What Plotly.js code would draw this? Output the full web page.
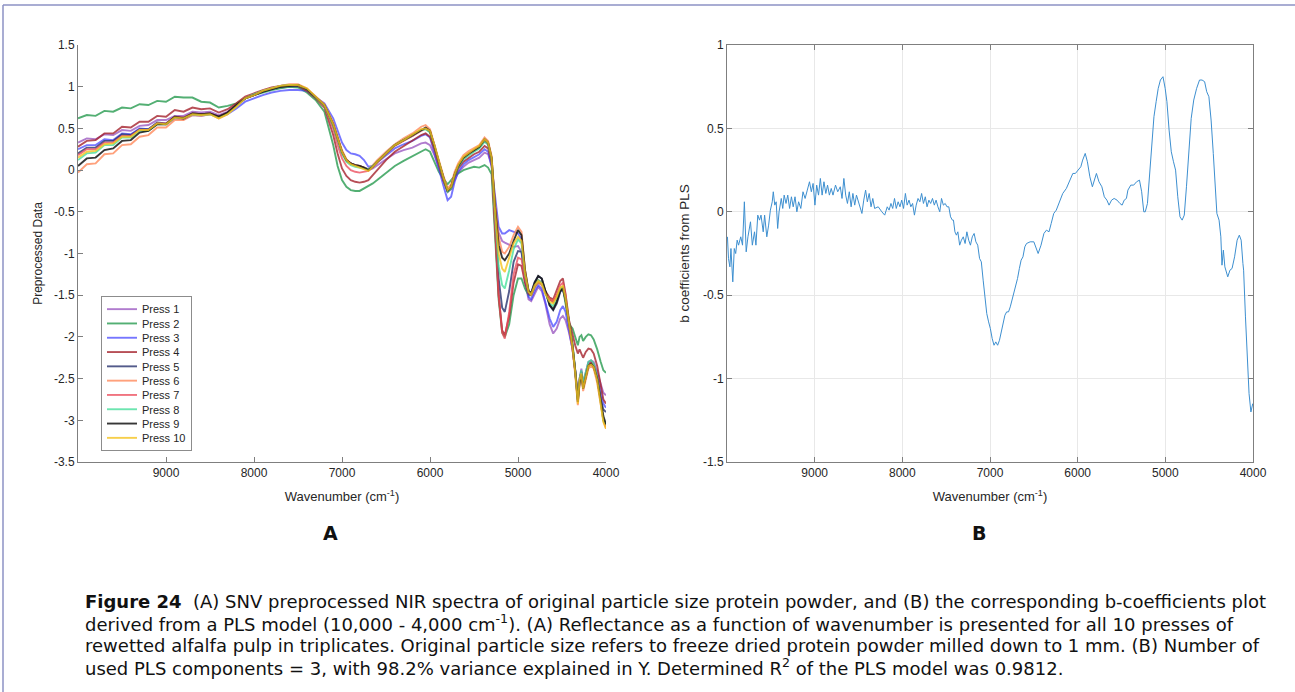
<!DOCTYPE html>
<html><head><meta charset="utf-8">
<script src="https://cdn.plot.ly/plotly-3.0.1.min.js"></script>
<style>html,body{margin:0;padding:0;background:#fff;}#chart{width:1295px;height:692px;}</style>
</head><body><div id="chart"></div>
<script>
// ---------- Panel A: SNV preprocessed spectra ----------
const wavenumber = [10000,9900,9800,9700,9600,9500,9400,9300,9200,9100,9000,8900,8800,8700,8600,8500,8400,8300,8200,8100,8000,
7900,7800,7700,7600,7500,7400,7300,7200,7100,7050,7000,6950,6900,6850,6800,6750,6700,6650,6600,6500,6400,6300,6200,6100,
6050,6000,5950,5900,5850,5800,5760,5720,5680,5620,5560,5500,5440,5380,5340,5300,5260,5220,5180,5150,
5100,5050,5000,4960,4920,4880,4850,4810,4770,4730,4690,4640,4600,4560,4520,4490,4460,4420,4380,4350,4320,4300,4280,4260,4230,4200,4170,4140,4100,4060,4030,4000];

const press1 = [0.33,0.38,0.37,0.43,0.42,0.48,0.47,0.53,0.54,0.60,0.60,0.65,0.65,0.70,0.69,0.70,0.66,0.70,0.78,0.86,0.90,
0.94,0.97,0.99,1.00,1.00,0.96,0.87,0.78,0.52,0.36,0.20,0.12,0.08,0.06,0.04,0.03,0.00,0.02,0.06,0.13,0.20,0.24,0.27,0.32,
0.33,0.30,0.18,0.02,-0.12,-0.25,-0.23,-0.12,-0.03,0.04,0.09,0.12,0.15,0.21,0.19,0.05,-0.40,-0.75,-0.85,-0.87,
-0.90,-0.92,-0.91,-0.98,-1.35,-1.55,-1.57,-1.48,-1.40,-1.45,-1.60,-1.85,-1.96,-1.90,-1.78,-1.75,-1.80,-1.95,-2.15,-2.40,-2.72,-2.50,-2.38,-2.55,-2.42,-2.30,-2.28,-2.30,-2.42,-2.58,-2.67,-2.70];

const press2 = [0.62,0.66,0.65,0.71,0.70,0.75,0.74,0.79,0.78,0.83,0.82,0.88,0.87,0.87,0.82,0.81,0.75,0.77,0.80,0.86,0.90,
0.93,0.96,0.98,1.00,0.99,0.93,0.84,0.70,0.30,0.05,-0.12,-0.20,-0.24,-0.25,-0.25,-0.22,-0.20,-0.16,-0.12,-0.04,0.05,0.11,0.17,0.23,
0.25,0.22,0.10,-0.02,-0.10,-0.17,-0.12,-0.07,-0.04,0.00,0.02,0.04,0.03,0.06,0.03,-0.05,-0.80,-1.55,-1.95,-2.00,
-1.85,-1.50,-1.30,-1.30,-1.42,-1.50,-1.50,-1.40,-1.35,-1.37,-1.45,-1.55,-1.58,-1.52,-1.43,-1.41,-1.60,-1.85,-1.90,-2.00,-2.10,-2.00,-1.98,-2.05,-2.00,-1.97,-1.98,-2.03,-2.15,-2.30,-2.40,-2.43];

const press3 = [0.25,0.30,0.30,0.37,0.36,0.44,0.43,0.50,0.49,0.56,0.55,0.62,0.61,0.66,0.65,0.67,0.63,0.67,0.74,0.82,0.86,
0.90,0.93,0.95,0.96,0.96,0.95,0.88,0.80,0.62,0.48,0.33,0.24,0.20,0.19,0.17,0.12,0.04,0.05,0.09,0.18,0.26,0.31,0.35,0.41,
0.43,0.39,0.22,0.02,-0.18,-0.36,-0.32,-0.14,-0.02,0.07,0.12,0.16,0.19,0.25,0.22,0.05,-0.35,-0.68,-0.76,-0.76,
-0.72,-0.74,-0.76,-0.83,-1.28,-1.52,-1.55,-1.45,-1.38,-1.42,-1.57,-1.78,-1.88,-1.82,-1.68,-1.63,-1.70,-1.92,-2.15,-2.40,-2.75,-2.52,-2.42,-2.58,-2.45,-2.32,-2.30,-2.33,-2.47,-2.68,-2.80,-2.85];

const press4 = [0.28,0.35,0.36,0.44,0.44,0.52,0.51,0.58,0.58,0.65,0.64,0.72,0.70,0.75,0.73,0.74,0.69,0.73,0.80,0.88,0.92,
0.96,0.99,1.01,1.02,1.01,0.95,0.86,0.75,0.42,0.20,0.02,-0.07,-0.12,-0.14,-0.15,-0.14,-0.12,-0.06,0.00,0.12,0.22,0.29,0.35,0.42,
0.44,0.40,0.25,0.05,-0.12,-0.26,-0.22,-0.08,0.02,0.10,0.15,0.19,0.22,0.29,0.26,0.10,-0.70,-1.50,-1.92,-1.98,
-1.75,-1.35,-1.13,-1.15,-1.35,-1.48,-1.50,-1.40,-1.33,-1.36,-1.45,-1.53,-1.55,-1.45,-1.33,-1.30,-1.48,-1.80,-1.98,-2.10,-2.20,-2.15,-2.20,-2.25,-2.18,-2.14,-2.15,-2.20,-2.35,-2.60,-2.75,-2.80];

const press5 = [0.20,0.27,0.27,0.35,0.35,0.43,0.42,0.49,0.49,0.57,0.56,0.64,0.63,0.68,0.67,0.68,0.64,0.69,0.78,0.86,0.90,
0.94,0.97,1.00,1.01,1.01,0.97,0.87,0.78,0.55,0.38,0.22,0.12,0.08,0.06,0.05,0.03,0.01,0.05,0.10,0.20,0.30,0.36,0.41,0.48,
0.50,0.46,0.30,0.10,-0.08,-0.26,-0.21,-0.06,0.04,0.14,0.19,0.23,0.27,0.35,0.31,0.13,-0.55,-1.30,-1.65,-1.70,
-1.45,-1.10,-0.97,-0.98,-1.25,-1.45,-1.47,-1.34,-1.27,-1.30,-1.45,-1.62,-1.68,-1.60,-1.46,-1.43,-1.56,-1.86,-2.12,-2.42,-2.76,-2.52,-2.42,-2.60,-2.48,-2.34,-2.32,-2.35,-2.50,-2.75,-2.87,-2.90];

const press6 = [-0.03,0.07,0.08,0.19,0.20,0.30,0.31,0.40,0.42,0.51,0.51,0.60,0.60,0.66,0.65,0.67,0.62,0.67,0.77,0.86,0.90,
0.95,0.98,1.01,1.03,1.03,0.98,0.88,0.79,0.57,0.40,0.24,0.13,0.08,0.06,0.05,0.03,0.01,0.06,0.12,0.22,0.31,0.38,0.44,0.52,
0.54,0.49,0.32,0.12,-0.06,-0.22,-0.17,-0.02,0.08,0.18,0.23,0.27,0.30,0.39,0.35,0.17,-0.40,-0.80,-0.98,-1.00,
-0.92,-0.78,-0.68,-0.74,-1.20,-1.45,-1.50,-1.40,-1.35,-1.38,-1.48,-1.55,-1.57,-1.50,-1.42,-1.40,-1.55,-1.85,-2.15,-2.45,-2.82,-2.55,-2.45,-2.65,-2.50,-2.38,-2.35,-2.38,-2.55,-2.80,-3.00,-3.10];

const press7 = [0.18,0.25,0.25,0.33,0.33,0.41,0.41,0.48,0.48,0.56,0.56,0.64,0.63,0.68,0.67,0.68,0.64,0.69,0.78,0.87,0.91,
0.95,0.98,1.01,1.02,1.02,0.97,0.87,0.77,0.50,0.30,0.14,0.05,0.00,-0.02,-0.03,-0.02,-0.01,0.04,0.09,0.19,0.29,0.35,0.41,0.48,
0.50,0.46,0.29,0.09,-0.09,-0.24,-0.20,-0.05,0.05,0.14,0.19,0.23,0.27,0.35,0.31,0.13,-0.70,-1.50,-1.95,-2.02,
-1.70,-1.25,-1.05,-1.07,-1.30,-1.46,-1.49,-1.38,-1.32,-1.35,-1.46,-1.55,-1.58,-1.50,-1.38,-1.35,-1.50,-1.82,-2.10,-2.40,-2.72,-2.50,-2.42,-2.58,-2.45,-2.33,-2.30,-2.33,-2.48,-2.75,-3.00,-3.08];

const press8 = [0.12,0.20,0.21,0.30,0.30,0.39,0.39,0.47,0.47,0.55,0.55,0.63,0.62,0.67,0.66,0.67,0.63,0.68,0.77,0.86,0.91,
0.95,0.98,1.01,1.02,1.02,0.97,0.87,0.77,0.53,0.35,0.20,0.10,0.06,0.04,0.03,0.02,0.01,0.05,0.10,0.20,0.30,0.36,0.42,0.48,
0.49,0.45,0.29,0.09,-0.09,-0.26,-0.22,-0.06,0.04,0.13,0.18,0.22,0.26,0.34,0.31,0.13,-0.55,-1.15,-1.38,-1.42,
-1.20,-0.95,-0.83,-0.88,-1.25,-1.46,-1.49,-1.38,-1.32,-1.35,-1.47,-1.60,-1.63,-1.55,-1.42,-1.40,-1.55,-1.85,-2.10,-2.40,-2.75,-2.50,-2.40,-2.55,-2.42,-2.30,-2.28,-2.32,-2.48,-2.78,-3.00,-3.05];

const press9 = [0.05,0.14,0.15,0.24,0.26,0.35,0.36,0.45,0.47,0.55,0.55,0.64,0.62,0.68,0.67,0.68,0.64,0.69,0.78,0.86,0.90,
0.94,0.97,1.00,1.01,1.02,0.97,0.87,0.78,0.55,0.38,0.22,0.12,0.08,0.06,0.05,0.03,0.00,0.04,0.10,0.20,0.30,0.36,0.42,0.49,
0.51,0.47,0.30,0.10,-0.08,-0.25,-0.20,-0.05,0.05,0.15,0.20,0.24,0.28,0.37,0.33,0.15,-0.45,-0.90,-1.05,-1.08,
-1.00,-0.85,-0.72,-0.78,-1.20,-1.45,-1.48,-1.35,-1.27,-1.30,-1.45,-1.62,-1.67,-1.58,-1.45,-1.42,-1.55,-1.85,-2.10,-2.40,-2.78,-2.55,-2.45,-2.62,-2.50,-2.35,-2.32,-2.36,-2.50,-2.75,-2.95,-3.05];

const press10 = [0.15,0.22,0.23,0.31,0.32,0.40,0.40,0.48,0.48,0.56,0.55,0.63,0.62,0.67,0.66,0.67,0.62,0.67,0.76,0.86,0.90,
0.95,0.98,1.01,1.02,1.02,0.98,0.88,0.78,0.55,0.37,0.22,0.12,0.07,0.05,0.03,0.01,-0.01,0.04,0.10,0.20,0.30,0.36,0.42,0.49,
0.50,0.47,0.30,0.10,-0.08,-0.24,-0.20,-0.05,0.06,0.16,0.21,0.25,0.29,0.37,0.33,0.15,-0.50,-1.00,-1.18,-1.22,
-1.05,-0.88,-0.80,-0.85,-1.23,-1.46,-1.49,-1.38,-1.33,-1.36,-1.48,-1.58,-1.60,-1.52,-1.41,-1.39,-1.54,-1.85,-2.12,-2.42,-2.80,-2.52,-2.44,-2.62,-2.48,-2.35,-2.33,-2.36,-2.52,-2.80,-3.02,-3.10];

const pressNames = ['Press 1','Press 2','Press 3','Press 4','Press 5','Press 6','Press 7','Press 8','Press 9','Press 10'];
const pressSeries = [press1,press2,press3,press4,press5,press6,press7,press8,press9,press10];
const pressColors = ['rgba(150,80,190,0.75)','rgba(40,155,80,0.8)','rgba(60,60,255,0.7)','rgba(165,35,45,0.8)','rgba(40,50,110,0.8)',
                     'rgba(255,130,80,0.75)','rgba(235,70,85,0.75)','rgba(60,220,150,0.75)','rgba(20,20,20,0.85)','rgba(245,195,30,0.8)'];

// ---------- Panel B: PLS b-coefficients ----------
const bWave = [9995,9983,9967,9955,9934,9917,9901,9884,9868,9843,9823,9802,9781,9761,9732,9711,9686,9670,9649,9629,9612,9587,9571,9546,9525,9505,9484,9472,9455,9439,9422,9406,9381,9364,9348,9327,9307,9286,9265,9245,9224,9203,9183,9158,9133,9109,9084,9059,9038,9018,8997,8977,8956,8935,8915,8894,8873,8853,8832,8811,8791,8762,8737,8708,8688,8667,8646,8626,8605,8584,8564,8543,8523,8502,8481,8461,8440,8419,8399,8378,8357,8337,8316,8275,8234,8201,8172,8151,8130,8110,8089,8069,8048,8027,8007,7986,7965,7945,7924,7903,7883,7862,7842,7821,7800,7780,7759,7738,7718,7697,7677,7656,7635,7615,7594,7573,7553,7532,7511,7491,7470,7450,7429,7417,7400,7383,7367,7346,7326,7305,7284,7264,7243,7223,7202,7181,7161,7140,7119,7099,7078,7057,7037,7016,6996,6975,6954,6934,6913,6892,6872,6851,6830,6810,6789,6769,6748,6727,6707,6686,6665,6645,6624,6603,6583,6542,6500,6480,6451,6418,6385,6356,6327,6302,6273,6244,6211,6170,6129,6088,6055,6026,5997,5964,5943,5914,5889,5861,5832,5807,5786,5757,5724,5696,5667,5642,5613,5584,5551,5518,5493,5469,5444,5427,5394,5361,5328,5295,5270,5246,5229,5204,5180,5155,5130,5105,5081,5056,5027,5002,4982,4957,4932,4907,4883,4858,4833,4808,4784,4759,4734,4705,4676,4643,4610,4581,4552,4528,4503,4478,4453,4429,4412,4387,4367,4354,4338,4321,4288,4263,4239,4210,4181,4156,4135,4115,4107,4086,4065,4045,4024,4003];
const bCoef = [-0.15,-0.28,-0.33,-0.22,-0.42,-0.22,-0.25,-0.17,-0.20,-0.15,-0.20,0.06,-0.24,-0.15,-0.06,-0.20,-0.12,-0.20,-0.02,-0.05,-0.02,-0.12,-0.02,-0.15,-0.08,0.01,0.06,0.12,0.04,0.06,-0.10,0.00,0.08,0.02,0.10,0.05,0.10,0.02,0.09,0.03,0.09,0.00,0.06,0.02,0.12,0.08,0.13,0.18,0.12,0.17,0.04,0.16,0.10,0.20,0.10,0.18,0.11,0.16,0.10,0.14,0.10,0.16,0.12,0.15,0.08,0.20,0.10,0.05,0.12,0.03,0.11,0.04,0.10,0.06,0.03,-0.01,0.07,0.13,0.06,0.11,0.03,0.08,0.02,0.03,0.00,-0.02,0.03,0.01,0.05,0.02,0.08,0.02,0.06,0.03,0.07,0.02,0.11,0.04,0.07,0.03,0.05,-0.02,0.04,0.08,0.06,0.11,0.05,0.09,0.03,0.07,0.05,0.08,0.04,0.07,0.03,0.00,0.08,0.04,0.05,0.03,0.03,-0.03,-0.05,-0.05,-0.12,-0.14,-0.12,-0.20,-0.17,-0.15,-0.19,-0.12,-0.17,-0.20,-0.15,-0.13,-0.18,-0.20,-0.28,-0.30,-0.41,-0.53,-0.61,-0.66,-0.70,-0.76,-0.80,-0.78,-0.80,-0.77,-0.72,-0.67,-0.62,-0.60,-0.60,-0.57,-0.53,-0.49,-0.44,-0.40,-0.34,-0.29,-0.27,-0.21,-0.19,-0.18,-0.18,-0.21,-0.25,-0.20,-0.13,-0.11,-0.12,-0.07,-0.01,0.01,0.05,0.11,0.14,0.19,0.23,0.23,0.25,0.27,0.31,0.35,0.30,0.21,0.15,0.19,0.23,0.18,0.15,0.09,0.07,0.04,0.07,0.08,0.07,0.05,0.04,0.07,0.08,0.13,0.16,0.16,0.18,0.19,0.12,0.00,0.00,0.05,0.21,0.41,0.57,0.66,0.74,0.79,0.81,0.74,0.66,0.49,0.36,0.30,0.25,0.09,-0.03,-0.05,-0.02,0.15,0.37,0.56,0.67,0.74,0.79,0.79,0.78,0.72,0.69,0.55,0.35,0.13,-0.01,-0.05,-0.15,-0.32,-0.23,-0.33,-0.39,-0.35,-0.34,-0.27,-0.17,-0.14,-0.17,-0.31,-0.35,-0.63,-0.89,-1.09,-1.20,-1.15];

// ---------- tick labels ----------
const xTickVals = [9000,8000,7000,6000,5000,4000];
const xTickText = ['9000','8000','7000','6000','5000','4000'];
const aTickVals = [1.5,1,0.5,0,-0.5,-1,-1.5,-2,-2.5,-3,-3.5];
const aTickText = ['1.5','1','0.5','0','-0.5','-1','-1.5','-2','-2.5','-3','-3.5'];
const bTickVals = [1,0.5,0,-0.5,-1,-1.5];
const bTickText = ['1','0.5','0','-0.5','-1','-1.5'];

const W = 1295, H = 692;
const px = v => v / W, py = v => 1 - v / H;
const FONT = 'Liberation Sans, Arial, Helvetica, sans-serif';
const CAPFONT = 'DejaVu Sans, Verdana, sans-serif';
const tickFont = {family: FONT, size: 12, color: '#262626'};

const traces = pressSeries.map((s, i) => ({
  type: 'scatter', mode: 'lines', x: wavenumber, y: s, name: pressNames[i],
  line: {color: pressColors[i], width: 1.9}, xaxis: 'x', yaxis: 'y'
}));
traces.push({type: 'scatter', mode: 'lines', x: bWave, y: bCoef, name: 'b coefficients',
  line: {color: '#3d8fd0', width: 1}, xaxis: 'x2', yaxis: 'y2', showlegend: false});

const baseAxis = {ticks: 'inside', ticklen: 5, tickcolor: '#7f7f7f', showline: true, linecolor: '#7f7f7f',
  linewidth: 1, zeroline: false, tickfont: tickFont, fixedrange: true};

const capFont = {family: CAPFONT, size: 18, color: '#111'};
const caption = [
  '<b>Figure 24</b>  (A) SNV preprocessed NIR spectra of original particle size protein powder, and (B) the corresponding b-coefficients plot',
  'derived from a PLS model (10,000 - 4,000 cm<sup>-1</sup>). (A) Reflectance as a function of wavenumber is presented for all 10 presses of',
  'rewetted alfalfa pulp in triplicates. Original particle size refers to freeze dried protein powder milled down to 1 mm. (B) Number of',
  'used PLS components = 3, with 98.2% variance explained in Y. Determined R<sup>2</sup> of the PLS model was 0.9812.'
];
const capY = [601, 623, 645, 667];
const annotations = caption.map((t, i) => ({xref: 'paper', yref: 'paper', x: px(83), y: py(capY[i]),
  xanchor: 'left', yanchor: 'middle', text: t, showarrow: false, font: capFont, align: 'left'}));
annotations.push({xref: 'paper', yref: 'paper', x: px(330), y: py(533), xanchor: 'center', yanchor: 'middle',
  text: '<b>A</b>', showarrow: false, font: {family: CAPFONT, size: 19, color: '#111'}});
annotations.push({xref: 'paper', yref: 'paper', x: px(979), y: py(533), xanchor: 'center', yanchor: 'middle',
  text: '<b>B</b>', showarrow: false, font: {family: CAPFONT, size: 19, color: '#111'}});

const layout = {
  width: W, height: H, margin: {l: 0, r: 0, t: 0, b: 0, autoexpand: false},
  paper_bgcolor: '#fff', plot_bgcolor: '#fff', font: {family: FONT, color: '#262626'},
  showlegend: true,
  xaxis: Object.assign({}, baseAxis, {domain: [px(78), px(606)], range: [10000, 4000], anchor: 'y',
    tickvals: xTickVals, ticktext: xTickText, showgrid: false,
    title: {text: 'Wavenumber (cm<sup>-1</sup>)', font: {family: FONT, size: 13, color: '#262626'}, standoff: 12}}),
  yaxis: Object.assign({}, baseAxis, {domain: [py(462), py(45)], range: [-3.5, 1.5], anchor: 'x',
    tickvals: aTickVals, ticktext: aTickText, showgrid: false,
    title: {text: 'Preprocessed Data', font: {family: FONT, size: 12, color: '#262626'}, standoff: 8}}),
  xaxis2: Object.assign({}, baseAxis, {domain: [px(727), px(1253)], range: [10000, 4000], anchor: 'y2',
    tickvals: xTickVals, ticktext: xTickText, mirror: 'ticks', showgrid: true, gridcolor: '#e8e8e8',
    title: {text: 'Wavenumber (cm<sup>-1</sup>)', font: {family: FONT, size: 13, color: '#262626'}, standoff: 12}}),
  yaxis2: Object.assign({}, baseAxis, {domain: [py(462), py(45)], range: [-1.5, 1], anchor: 'x2',
    tickvals: bTickVals, ticktext: bTickText, mirror: 'ticks', showgrid: true, gridcolor: '#e8e8e8',
    title: {text: 'b coefficients from PLS', font: {family: FONT, size: 13.5, color: '#262626'}, standoff: 10}}),
  legend: {x: px(101), y: py(296), xanchor: 'left', yanchor: 'top', bgcolor: '#fff', bordercolor: '#8c8c8c',
    borderwidth: 1, font: {family: FONT, size: 11, color: '#262626'}, tracegroupgap: 0},
  shapes: [
    {type: 'line', xref: 'paper', yref: 'paper', x0: px(3), x1: 1, y0: py(5), y1: py(5), line: {color: '#8c92c4', width: 1.5}},
    {type: 'line', xref: 'paper', yref: 'paper', x0: px(3), x1: px(3), y0: py(5), y1: 0, line: {color: '#8c92c4', width: 1.5}}
  ],
  annotations: annotations
};

Plotly.newPlot('chart', traces, layout, {staticPlot: true, displayModeBar: false}).then(function (gd) {
  // tighten legend row spacing to match the reference
  const leg = gd.querySelector('.legend');
  if (!leg) return;
  const items = Array.from(leg.querySelectorAll('.traces'));
  if (items.length < 2) return;
  const pos = items.map(g => {
    const m = /translate\(\s*([-\d.e]+)[ ,]+([-\d.e]+)\s*\)/.exec(g.getAttribute('transform') || '');
    return m ? [parseFloat(m[1]), parseFloat(m[2])] : null;
  });
  if (!pos[0] || !pos[1]) return;
  const oldGap = pos[1][1] - pos[0][1];
  const gap = 14.3;
  const y0 = pos[0][1] - (oldGap - gap) / 2;
  items.forEach((g, i) => g.setAttribute('transform', 'translate(' + pos[0][0] + ',' + (y0 + i * gap) + ')'));
  const bg = leg.querySelector('rect.bg');
  if (bg) {
    const h = parseFloat(bg.getAttribute('height'));
    bg.setAttribute('height', h - items.length * (oldGap - gap));
  }
});
</script></body></html>
